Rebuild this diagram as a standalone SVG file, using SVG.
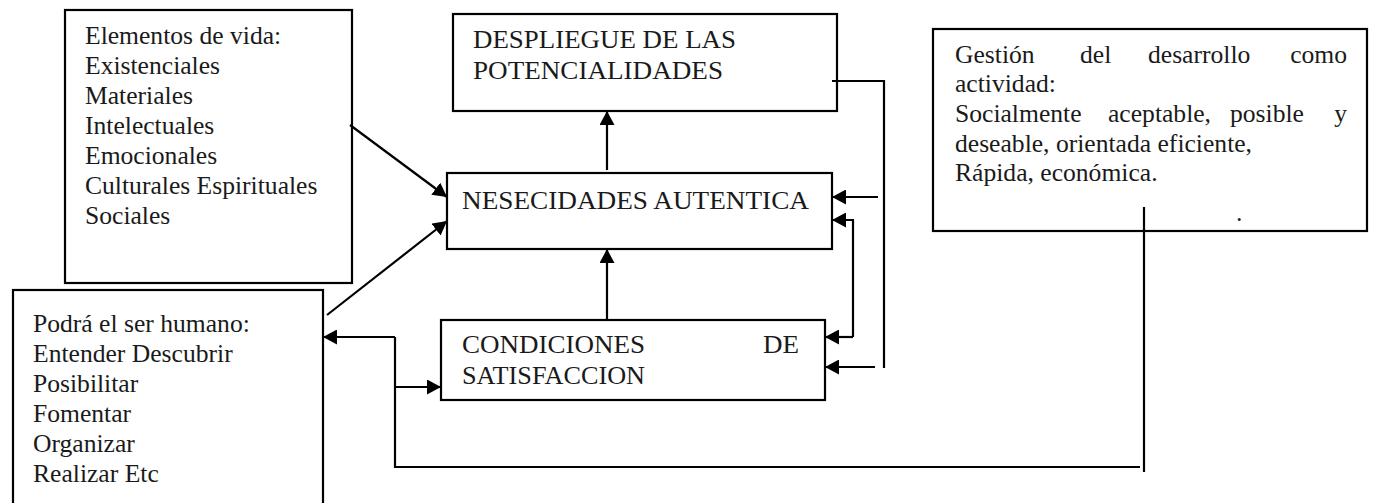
<svg xmlns="http://www.w3.org/2000/svg" width="1373" height="503" viewBox="0 0 1373 503">
<style>
.box{fill:#fff;stroke:#000;stroke-width:2.2}
.t{font-family:"Liberation Serif","Times New Roman",serif;font-size:25.6px;fill:#1a1a1a}
.ln{fill:none;stroke:#000;stroke-width:2.2}
</style>
<defs>
<marker id="ah" markerUnits="userSpaceOnUse" markerWidth="15" markerHeight="15" refX="14" refY="7.5" orient="auto">
<path d="M0,0 L14,7.5 L0,15 z" fill="#000"/>
</marker>
</defs>
<rect width="1373" height="503" fill="#fff"/>

<g id="elementos">
<rect class="box" x="65" y="10" width="287" height="273"/>
<text class="t" x="85" y="44">Elementos de vida:</text>
<text class="t" x="85" y="74">Existenciales</text>
<text class="t" x="85" y="104">Materiales</text>
<text class="t" x="85" y="134">Intelectuales</text>
<text class="t" x="85" y="164">Emocionales</text>
<text class="t" x="85" y="194">Culturales Espirituales</text>
<text class="t" x="85" y="224">Sociales</text>
</g>

<g id="despliegue">
<rect class="box" x="453" y="14" width="384" height="97"/>
<text class="t" x="473" y="48" textLength="263" lengthAdjust="spacingAndGlyphs">DESPLIEGUE DE LAS</text>
<text class="t" x="473" y="79" textLength="250" lengthAdjust="spacingAndGlyphs">POTENCIALIDADES</text>
</g>

<g id="nesecidades">
<rect class="box" x="447" y="173" width="385" height="76"/>
<text class="t" x="462" y="209" textLength="347" lengthAdjust="spacingAndGlyphs">NESECIDADES AUTENTICA</text>
</g>

<g id="condiciones">
<rect class="box" x="441" y="320" width="384" height="80"/>
<text class="t" x="462" y="353" textLength="183" lengthAdjust="spacingAndGlyphs">CONDICIONES</text>
<text class="t" x="763" y="353" textLength="36" lengthAdjust="spacingAndGlyphs">DE</text>
<text class="t" x="462" y="384" textLength="183" lengthAdjust="spacingAndGlyphs">SATISFACCION</text>
</g>

<g id="gestion">
<rect class="box" x="933" y="29" width="434" height="202"/>
<text class="t" x="955" y="63">Gestión</text>
<text class="t" x="1080" y="63">del</text>
<text class="t" x="1148" y="63">desarrollo</text>
<text class="t" x="1347" y="63" text-anchor="end">como</text>
<text class="t" x="955" y="92">actividad:</text>
<text class="t" x="955" y="122">Socialmente</text>
<text class="t" x="1108" y="122">aceptable,</text>
<text class="t" x="1230" y="122">posible</text>
<text class="t" x="1347" y="122" text-anchor="end">y</text>
<text class="t" x="955" y="152">deseable, orientada eficiente,</text>
<text class="t" x="955" y="181">Rápida, económica.</text>
<text class="t" x="1236" y="221">.</text>
</g>

<g id="podra">
<rect class="box" x="13" y="290" width="310" height="230"/>
<text class="t" x="33" y="332">Podrá el ser humano:</text>
<text class="t" x="33" y="362">Entender Descubrir</text>
<text class="t" x="33" y="392">Posibilitar</text>
<text class="t" x="33" y="422">Fomentar</text>
<text class="t" x="33" y="452">Organizar</text>
<text class="t" x="33" y="482">Realizar Etc</text>
</g>

<g id="connectors">
<line class="ln" x1="350" y1="125" x2="447" y2="197" marker-end="url(#ah)"/>
<line class="ln" x1="327" y1="315" x2="447" y2="221" marker-end="url(#ah)"/>
<line class="ln" x1="607" y1="170" x2="607" y2="111" marker-end="url(#ah)"/>
<line class="ln" x1="607" y1="319" x2="607" y2="249" marker-end="url(#ah)"/>
<polyline class="ln" points="832,81 884,81 884,368"/>
<line class="ln" x1="878" y1="197" x2="832" y2="197" marker-end="url(#ah)"/>
<polyline class="ln" points="853,337 853,220 832,220" marker-end="url(#ah)"/>
<line class="ln" x1="853" y1="337" x2="825" y2="337" marker-end="url(#ah)"/>
<line class="ln" x1="875" y1="367" x2="825" y2="367" marker-end="url(#ah)"/>
<line class="ln" x1="395" y1="337" x2="323" y2="337" marker-end="url(#ah)"/>
<polyline class="ln" points="395,337 395,467 1140,467"/>
<line class="ln" x1="395" y1="387" x2="441" y2="387" marker-end="url(#ah)"/>
<line class="ln" x1="1144" y1="207" x2="1144" y2="472"/>
</g>
</svg>
